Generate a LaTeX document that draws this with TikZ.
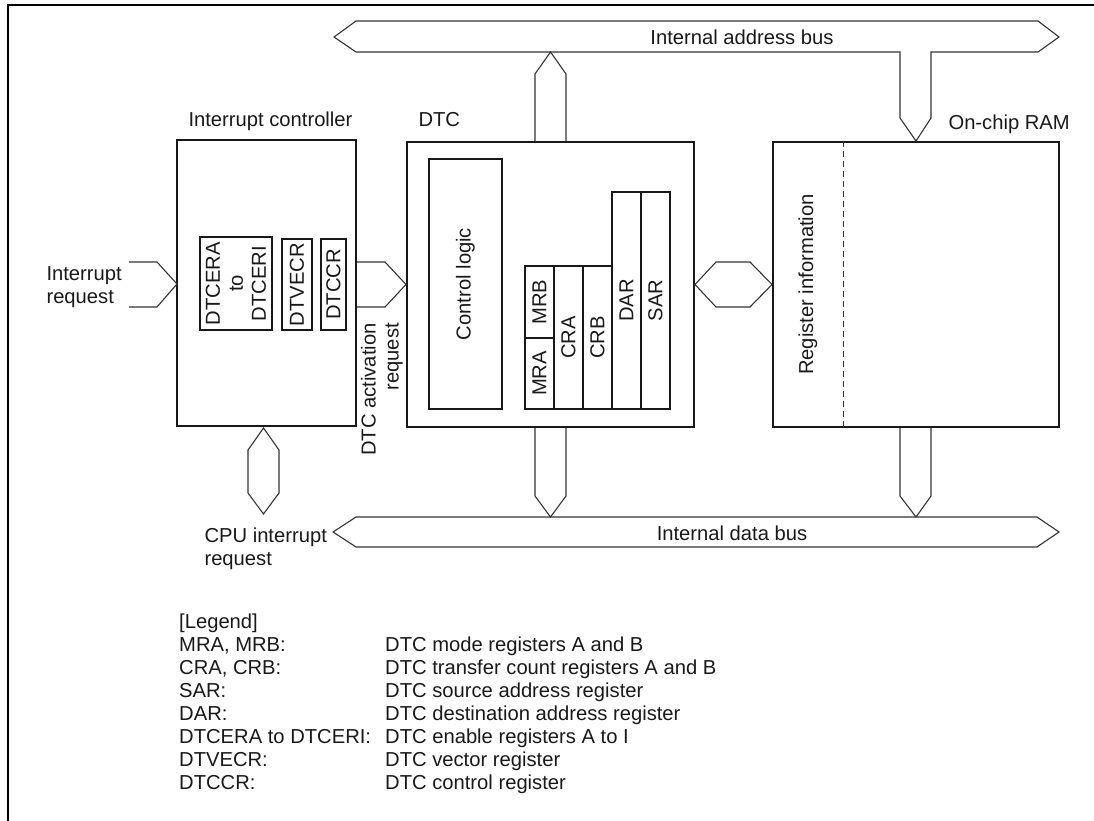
\documentclass[tikz,border=0pt]{standalone}
\usepackage{fontspec}
\setmainfont{Liberation Sans}

\begin{document}
\begin{tikzpicture}[x=1pt, y=-1pt,
		every node/.style={font=\fontsize{20.2}{23}\selectfont, text=black!90},
		box/.style={draw=black!90, line width=2pt, inner sep=0pt},
		reg/.style={box, line width=1.8pt, rotate=90, align=center},
		bus/.style={draw=black!80, line width=1.1pt, line join=miter}]
		\useasboundingbox (0,0) rectangle (1094,821);
		\draw[line width=2pt] (8,821) -- (8,5) -- (1094,5);
		% blocks
		\node[box, minimum width=179, minimum height=286] (intc) at (266.5,283) {};
		\node[box, minimum width=287, minimum height=285] (dtc) at (550.5,284.5) {};
		\node[box, minimum width=286, minimum height=285] (ram) at (916,284.5) {};
		\node[anchor=base west] (intclbl) at (185,127) {Interrupt controller};
		\node[anchor=base west] (dtclbl) at (415,127) {DTC};
		\node[anchor=base west] (ramlbl) at (945,130) {On-chip RAM};
		% interrupt controller registers
		\node[reg, minimum width=93, minimum height=72] (dtcer) at (236,283.5) {DTCERA\\to\\DTCERI};
		\node[reg, minimum width=91, minimum height=30] (dtvecr) at (297,284.5) {DTVECR};
		\node[reg, minimum width=91, minimum height=25] (dtccr) at (333.5,284.5) {DTCCR};
		% DTC registers
		\node[reg, minimum width=250, minimum height=73] (ctrl) at (465.5,284) {Control logic};
		\node[reg, minimum width=71, minimum height=29] (mra) at (539.5,373.5) {MRA};
		\node[reg, minimum width=72, minimum height=29] (mrb) at (539.5,302) {MRB};
		\node[reg, minimum width=143, minimum height=29] (cra) at (568.5,337.5) {CRA};
		\node[reg, minimum width=143, minimum height=29] (crb) at (597.5,337.5) {CRB};
		\node[reg, minimum width=217, minimum height=29] (dar) at (626.5,300.5) {DAR};
		\node[reg, minimum width=217, minimum height=29] (sar) at (655.5,300.5) {SAR};
		% RAM contents
		\draw[black!80, line width=1pt, dash pattern=on 6pt off 4pt] (843,0 |- ram.north) -- (843,0 |- ram.south);
		\node[rotate=90] (reginfo) at (808,284.5) {Register information};
		% buses
		\draw[bus] (334,37) -- (356,21) -- (1038,21) -- (1059,37) -- (1038,52) -- (931,52) -- (931,118) -- (ram.north)
			-- (900,118) -- (900,52) -- (356,52) -- cycle;
		\node[anchor=base] (abuslbl) at (742,45) {Internal address bus};
		\draw[bus] (333,532) -- (356,517) -- (1037,517) -- (1059,532) -- (1037,547) -- (356,547) -- cycle;
		\node[anchor=base] (dbuslbl) at (732,540) {Internal data bus};
		\draw[bus] (535,0 |- dtc.north) -- (535,74) -- (550.5,52) -- (566,74) -- (566,0 |- dtc.north);
		\draw[bus] (535,0 |- dtc.south) -- (535,496) -- (550.5,517) -- (566,496) -- (566,0 |- dtc.south);
		\draw[bus] (900,0 |- ram.south) -- (900,496) -- (916,517) -- (931,496) -- (931,0 |- ram.south);
		\draw[bus] (dtc.east) -- (716,262) -- (750,262) -- (ram.west) -- (750,307) -- (716,307) -- cycle;
		% requests
		\draw[bus] (129,262) -- (157,262) -- (177,284) -- (157,307) -- (129,307);
		\node[anchor=base west, align=left] (irqlbl) at (43,303) {Interrupt\\request};
		\draw[bus] (357,262) -- (385,262) -- (dtc.west) -- (385,307) -- (357,307);
		\node[rotate=90, anchor=east, align=right, inner sep=0pt] (actlbl) at (382,323) {DTC activation\\request};
		\draw[bus] (263.5,428) -- (279,450) -- (279,493) -- (263.5,514) -- (248,493) -- (248,450) -- cycle;
		\node[anchor=base west, align=left] (cpulbl) at (201,565) {CPU interrupt\\request};
		% legend
		\node[anchor=base west, inner sep=0pt] (legend) at (179,628) {%
			\begin{tabular}[t]{@{}p{206pt}@{}l@{}}
				{[Legend]} & \\
				MRA, MRB: & DTC mode registers A and B \\
				CRA, CRB: & DTC transfer count registers A and B \\
				SAR: & DTC source address register \\
				DAR: & DTC destination address register \\
				DTCERA to DTCERI: & DTC enable registers A to I \\
				DTVECR: & DTC vector register \\
				DTCCR: & DTC control register
			\end{tabular}};
	\end{tikzpicture}
\end{document}
